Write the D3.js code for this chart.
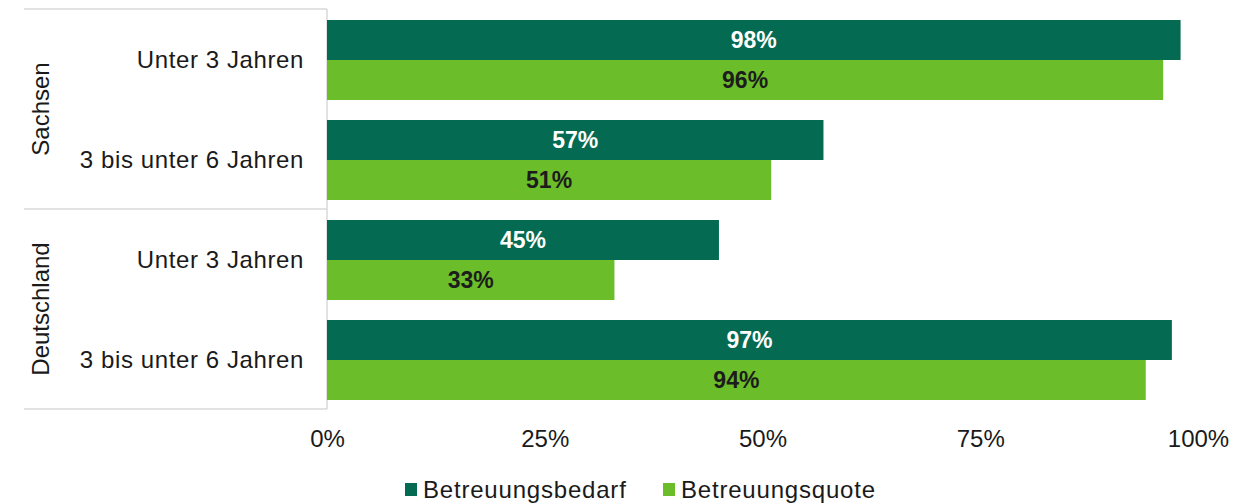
<!DOCTYPE html>
<html>
<head>
<meta charset="utf-8">
<script src="https://cdn.jsdelivr.net/npm/d3@7"></script>
<style>
  html, body { margin: 0; padding: 0; background: #ffffff; }
  svg { display: block; font-family: "Liberation Sans", Arial, sans-serif; }
</style>
</head>
<body>
<svg id="chart" width="1259" height="504"></svg>
<script>
// Regions and age groups (two-level category axis)
const regions = ["Sachsen", "Deutschland"];
const ageGroups = ["Unter 3 Jahren", "3 bis unter 6 Jahren"];
// Series
const seriesNames = ["Betreuungsbedarf", "Betreuungsquote"];
const bedarf = [0.98, 0.57, 0.45, 0.97];   // Sachsen U3, Sachsen 3-6, DE U3, DE 3-6
const quote  = [0.96, 0.51, 0.33, 0.94];
const tickValues = [0, 0.25, 0.5, 0.75, 1];
const tickLabels = ["0%", "25%", "50%", "75%", "100%"];

const colors = { Betreuungsbedarf: "#046a52", Betreuungsquote: "#6bbd2a" };
const labelColors = { Betreuungsbedarf: "#ffffff", Betreuungsquote: "#1c1c1c" };

const rows = [];
regions.forEach((r, i) => ageGroups.forEach((a, j) => rows.push({ region: r, age: a, key: r + "|" + a, idx: i * ageGroups.length + j })));

const svg = d3.select("#chart");

const x = d3.scaleLinear().domain([0, 1]).range([327, 1198]);
const y = d3.scaleBand().domain(rows.map(d => d.key)).range([10, 410]).paddingInner(0.2).paddingOuter(0.1);
const ySub = d3.scaleBand().domain(seriesNames).range([0, y.bandwidth()]);

const gridColor = "#d9d9d9";

// Category-axis frame: horizontal separators between regions and the axis line
const regionEdges = [y.range()[0] - 1];
regions.forEach((r, i) => {
  const lastKey = rows.filter(d => d.region === r).slice(-1)[0].key;
  regionEdges.push(y(lastKey) + y.step() - y.step() * y.paddingInner() / 2 - 1);
});
svg.append("g").selectAll("line").data(regionEdges).join("line")
  .attr("x1", 24).attr("x2", x(0))
  .attr("y1", d => d).attr("y2", d => d)
  .attr("stroke", gridColor).attr("stroke-width", 1.5);
svg.append("line")
  .attr("x1", x(0)).attr("x2", x(0))
  .attr("y1", regionEdges[0]).attr("y2", regionEdges[regionEdges.length - 1])
  .attr("stroke", gridColor).attr("stroke-width", 1.5);

// Bars
const series = [
  { name: "Betreuungsbedarf", values: bedarf },
  { name: "Betreuungsquote", values: quote }
];
const barData = [];
series.forEach(s => rows.forEach(r => barData.push({ series: s.name, row: r, value: s.values[r.idx] })));

svg.append("g").selectAll("rect").data(barData).join("rect")
  .attr("x", x(0))
  .attr("y", d => y(d.row.key) + ySub(d.series))
  .attr("width", d => x(d.value) - x(0))
  .attr("height", ySub.bandwidth())
  .attr("fill", d => colors[d.series]);

// Value labels inside bars
const pct = d3.format(".0%");
svg.append("g").selectAll("text").data(barData).join("text")
  .attr("x", d => (x(0) + x(d.value)) / 2)
  .attr("y", d => y(d.row.key) + ySub(d.series) + ySub.bandwidth() / 2)
  .attr("dy", "0.36em")
  .attr("text-anchor", "middle")
  .attr("font-size", 23)
  .attr("font-weight", "bold")
  .attr("fill", d => labelColors[d.series])
  .text(d => pct(d.value));

// Age-group labels
svg.append("g").selectAll("text").data(rows).join("text")
  .attr("x", 304)
  .attr("y", d => y(d.key) + y.bandwidth() / 2)
  .attr("dy", "0.35em")
  .attr("text-anchor", "end")
  .attr("font-size", 24)
  .attr("letter-spacing", 0.6)
  .attr("fill", "#1a1a1a")
  .text(d => d.age);

// Region labels (rotated)
svg.append("g").selectAll("text").data(regions).join("text")
  .attr("transform", (r, i) => {
    const cy = (regionEdges[i] + regionEdges[i + 1]) / 2;
    return `translate(41,${cy}) rotate(-90)`;
  })
  .attr("dy", "0.35em")
  .attr("text-anchor", "middle")
  .attr("font-size", 24)
  .attr("fill", "#1a1a1a")
  .text(d => d);

// Value axis
const xAxis = d3.axisBottom(x).tickValues(tickValues).tickFormat((d, i) => tickLabels[i]).tickSize(0).tickPadding(0);
const axisG = svg.append("g").attr("transform", "translate(0,430)").call(xAxis);
axisG.select(".domain").remove();
axisG.selectAll("text")
  .attr("font-size", 24)
  .attr("font-family", "'Liberation Sans', Arial, sans-serif")
  .attr("fill", "#1a1a1a")
  .attr("dy", "0.72em");

// Legend
const legendX = [405, 663];
const legend = svg.append("g").selectAll("g").data(seriesNames).join("g")
  .attr("transform", (d, i) => `translate(${legendX[i]},483)`);
legend.append("rect").attr("width", 12).attr("height", 13).attr("fill", d => colors[d]);
legend.append("text")
  .attr("x", 18).attr("y", 14.5)
  .attr("font-size", 24)
  .attr("letter-spacing", 0.8)
  .attr("fill", "#1a1a1a")
  .text(d => d);
</script>
</body>
</html>
